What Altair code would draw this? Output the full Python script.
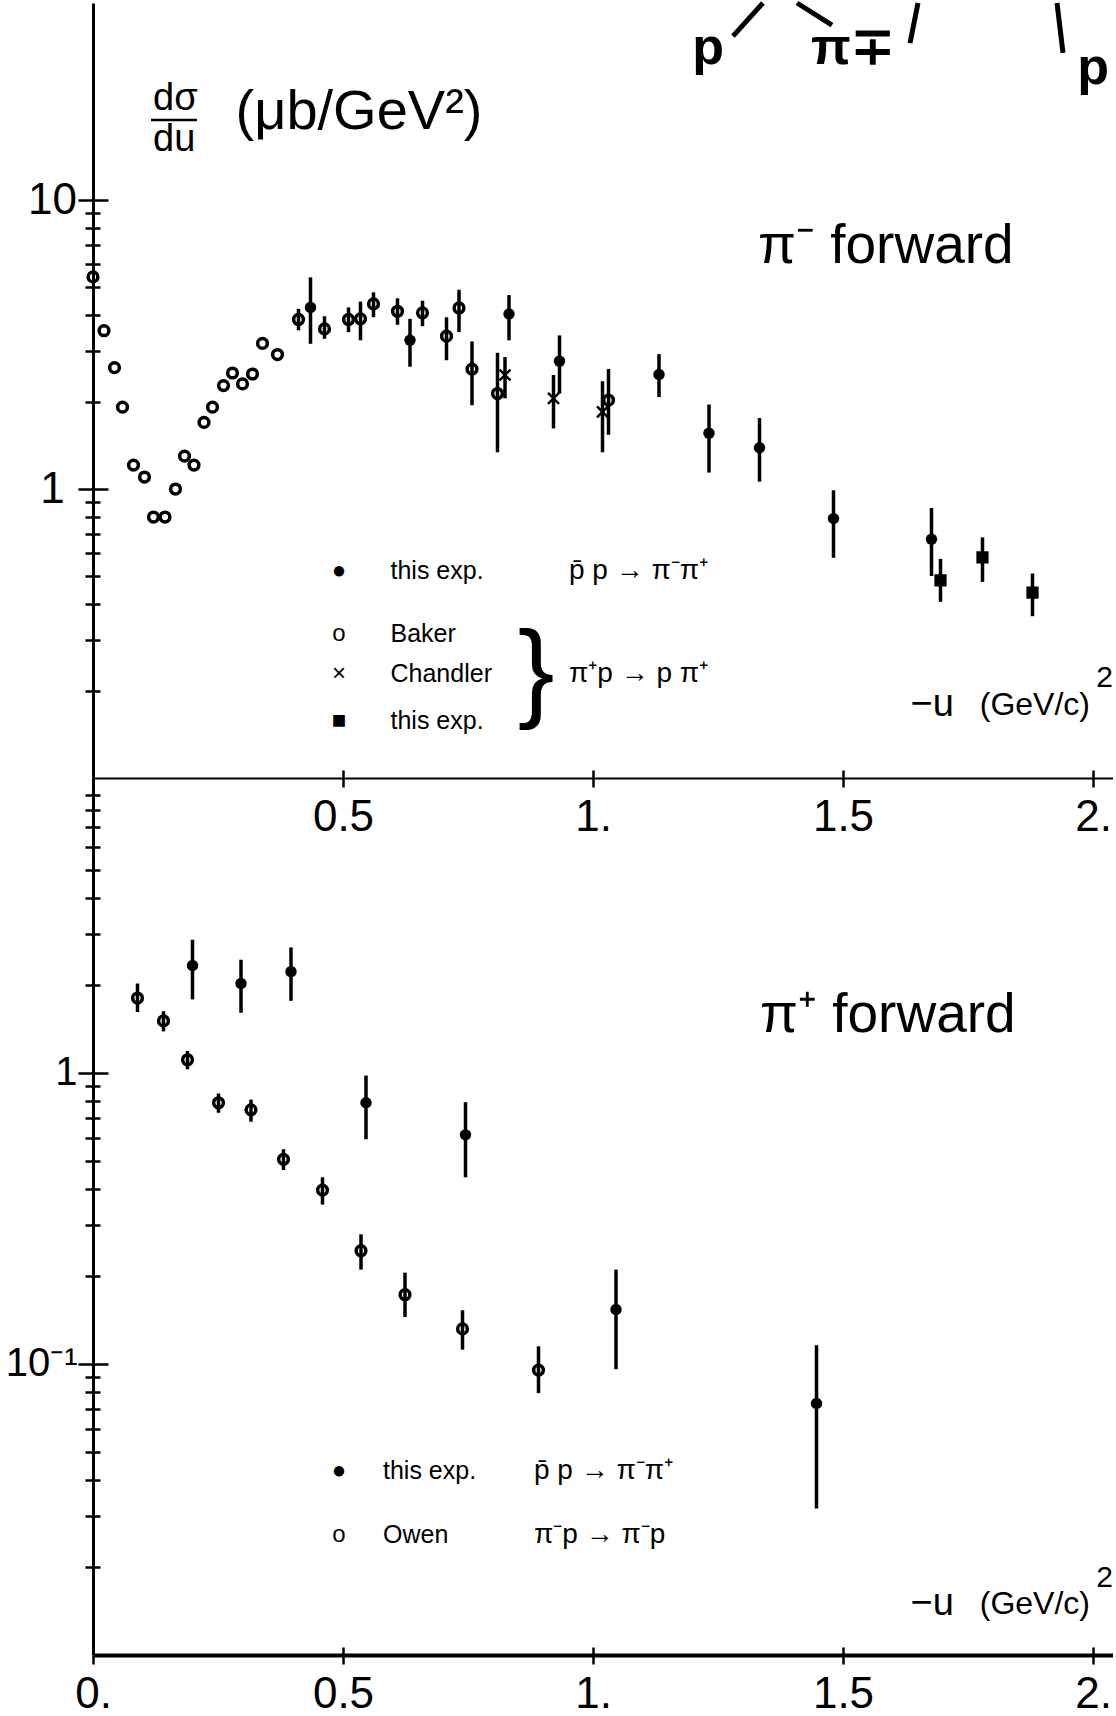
import altair as alt
import pandas as pd

# ---------------- top panel : pi- forward ----------------
baker_u = [0.0, 0.022, 0.043, 0.059, 0.081, 0.103, 0.121, 0.144, 0.165, 0.183, 0.202,
           0.222, 0.239, 0.261, 0.279, 0.299, 0.319, 0.339, 0.369]
baker_s = [5.42, 3.53, 2.63, 1.92, 1.21, 1.10, 0.80, 0.80, 1.00, 1.30, 1.21,
           1.70, 1.92, 2.28, 2.52, 2.31, 2.50, 3.19, 2.92]

bakerE_u = [0.411, 0.463, 0.511, 0.535, 0.561, 0.609, 0.659, 0.707, 0.732, 0.758, 0.809, 1.031]
bakerE_s = [3.86, 3.58, 3.86, 3.88, 4.37, 4.12, 4.07, 3.38, 4.23, 2.60, 2.14, 2.03]
bakerE_lo = [3.54, 3.31, 3.49, 3.27, 3.93, 3.70, 3.66, 2.79, 3.49, 1.95, 1.34, 1.54]
bakerE_hi = [4.20, 3.96, 4.25, 4.45, 4.79, 4.57, 4.48, 3.93, 4.89, 3.24, 2.96, 2.60]

ppbarT_u = [0.435, 0.634, 0.832, 0.933, 1.132, 1.232, 1.333, 1.481, 1.677]
ppbarT_s = [4.25, 3.27, 4.03, 2.77, 2.49, 1.56, 1.39, 0.79, 0.67]
ppbarT_lo = [3.18, 2.65, 3.27, 2.14, 2.08, 1.14, 1.06, 0.578, 0.50]
ppbarT_hi = [5.40, 3.88, 4.69, 3.40, 2.93, 1.96, 1.76, 0.99, 0.86]

chandler_u = [0.824, 0.921, 1.019]
chandler_s = [2.48, 2.06, 1.85]
chandler_lo = [2.06, 1.62, 1.34]
chandler_hi = [2.86, 2.48, 2.36]

pipT_u = [1.695, 1.779, 1.879]
pipT_s = [0.483, 0.58, 0.438]
pipT_lo = [0.407, 0.477, 0.363]
pipT_hi = [0.573, 0.68, 0.51]

# ---------------- bottom panel : pi+ forward ----------------
ppbarB_u = [0.199, 0.296, 0.396, 0.546, 0.745, 1.046, 1.447]
ppbarB_s = [2.34, 2.03, 2.23, 0.79, 0.613, 0.154, 0.0732]
ppbarB_lo = [1.79, 1.61, 1.77, 0.592, 0.438, 0.096, 0.0319]
ppbarB_hi = [2.87, 2.45, 2.70, 0.98, 0.794, 0.211, 0.116]

owen_u = [0.089, 0.141, 0.189, 0.251, 0.316, 0.381, 0.459, 0.536, 0.624, 0.739, 0.891]
owen_s = [1.81, 1.51, 1.11, 0.79, 0.747, 0.505, 0.396, 0.245, 0.173, 0.132, 0.0953]
owen_lo = [1.62, 1.39, 1.03, 0.73, 0.68, 0.464, 0.353, 0.211, 0.145, 0.112, 0.0794]
owen_hi = [2.03, 1.63, 1.19, 0.85, 0.81, 0.547, 0.438, 0.279, 0.206, 0.153, 0.115]

# ---------------- axis ticks ----------------
x_ticks = [0, 0.5, 1, 1.5, 2]
x_ticks_in = [0.5, 1, 1.5, 2]
top_y_ticks = [0.2, 0.3, 0.4, 0.5, 0.6, 0.7, 0.8, 0.9, 1, 2, 3, 4, 5, 6, 7, 8, 9, 10]
bot_y_ticks = [0.02, 0.03, 0.04, 0.05, 0.06, 0.07, 0.08, 0.09,
               0.1, 0.2, 0.3, 0.4, 0.5, 0.6, 0.7, 0.8, 0.9,
               1, 2, 3, 4, 5, 6, 7, 8, 9]

# ---------------- annotations ----------------
title_frac_x = [0.12, 0.12]
title_frac_y = [22.3, 16.1]
title_frac_t = ["dσ", "du"]
title_unit_x = [0.285]
title_unit_y = [20.1]
title_unit_t = ["(μb/GeV²)"]
frac_bar_x = [0.116]
frac_bar_x2 = [0.208]
frac_bar_y = [18.9]

top_big_x = [1.33]
top_big_y = [6.93]
top_big_t = ["π⁻ forward"]
top_u_x = [1.635, 1.994]
top_u_y = [0.179, 0.179]
top_u_t = ["−u", "(GeV/c)"]
top_sq_x = [2.04]
top_sq_y = [0.222]
top_sq_t = ["2"]

leg_top_sym_x = [0.492, 0.492, 0.492, 0.492]
leg_top_sym_y = [0.52, 0.315, 0.229, 0.158]
leg_top_sym_t = ["●", "o", "×", "■"]
leg_top_name_x = [0.595, 0.595, 0.595, 0.595]
leg_top_name_y = [0.52, 0.315, 0.229, 0.158]
leg_top_name_t = ["this exp.", "Baker", "Chandler", "this exp."]
leg_top_reac_x = [0.952, 0.952]
leg_top_reac_y = [0.52, 0.229]
leg_top_reac_t = ["p̄ p → π⁻π⁺", "π⁺p → p π⁺"]
brace_x = [0.886]
brace_y = [0.229]
brace_t = ["}"]

diag_t_x = [1.23, 1.52, 2.0]
diag_t_y = [33.6, 33.6, 28.6]
diag_t_t = ["p", "π∓", "p"]
diag_x = [1.28, 1.408, 1.634, 1.928]
diag_x2 = [1.34, 1.478, 1.65, 1.94]
diag_y = [36.9, 48.05, 34.9, 48.05]
diag_y2 = [48.05, 40.3, 48.05, 32.3]

bot_big_x = [1.334]
bot_big_y = [1.58]
bot_big_t = ["π⁺ forward"]
bot_u_x = [1.635, 1.994]
bot_u_y = [0.0150, 0.0150]
bot_u_t = ["−u", "(GeV/c)"]
bot_sq_x = [2.04]
bot_sq_y = [0.0184]
bot_sq_t = ["2"]

leg_bot_sym_x = [0.492, 0.492]
leg_bot_sym_y = [0.0429, 0.0259]
leg_bot_sym_t = ["●", "o"]
leg_bot_name_x = [0.58, 0.58]
leg_bot_name_y = [0.0429, 0.0259]
leg_bot_name_t = ["this exp.", "Owen"]
leg_bot_reac_x = [0.882, 0.882]
leg_bot_reac_y = [0.0429, 0.0259]
leg_bot_reac_t = ["p̄ p → π⁻π⁺", "π⁻p → π⁻p"]

# ---------------- scales & styles ----------------
W = 1020
H_TOP = 775
H = 1652
XS = alt.Scale(domain=[0, 2.04], nice=False, zero=False)
YS_T = alt.Scale(type="log", domain=[0.1, 48.05], range=[H_TOP, 0], nice=False)
YS_B = alt.Scale(type="log", domain=[0.01, 10.32], range=[H, H_TOP], nice=False)

NUMFONT = "Liberation Sans"
TXTFONT = "Liberation Sans"
HANDFONT = "Liberation Sans"


def cond(test, big, small):
    return {"condition": {"test": test, "value": big}, "value": small}


TOP_MAJ = "datum.value == 1 || datum.value == 10"
BOT_MAJ = "datum.value == 1 || datum.value == 0.1"
COMMON = dict(tickColor="black", domainColor="black", labelColor="black", grid=False, title=None)

AX_X_MID = alt.Axis(orient="bottom", offset=-(H - H_TOP), values=x_ticks,
                    labelExpr="datum.value == 0 ? '' : datum.value == 1 ? '1.' : datum.value == 2 ? '2.' : datum.label",
                    tickSize=9, tickWidth=2.5, domainWidth=2,
                    labelFont=NUMFONT, labelFontSize=44, labelPadding=8,
                    labelFlush=False, labelOverlap=False, **COMMON)
AX_X_MID_IN = alt.Axis(orient="top", offset=-H_TOP, values=x_ticks_in, labels=False, domain=False,
                       tickSize=8, tickWidth=2.5, minExtent=0, maxExtent=10, **COMMON)
AX_Y_TOP = alt.Axis(orient="left", values=top_y_ticks,
                    labelExpr="datum.value == 10 ? '10' : datum.value == 1 ? '1' : ''",
                    tickSize=cond(TOP_MAJ, 15, 8), tickWidth=2.5, domainWidth=3,
                    labelFont=NUMFONT, labelFontSize=44, labelPadding=26, labelAlign="center",
                    labelBaseline="middle", minExtent=93, maxExtent=93,
                    labelOverlap=False, labelFlush=False, **COMMON)
AX_Y_TOP_IN = alt.Axis(orient="right", offset=-W, values=top_y_ticks, labels=False, domain=False,
                       tickSize=cond(TOP_MAJ, 15, 7), tickWidth=2.5, minExtent=0, maxExtent=16, **COMMON)

AX_X_BOT = alt.Axis(orient="bottom", values=x_ticks,
                    labelExpr="datum.value == 0 ? '0.' : datum.value == 1 ? '1.' : datum.value == 2 ? '2.' : datum.label",
                    tickSize=9, tickWidth=2.5, domainWidth=4,
                    labelFont=NUMFONT, labelFontSize=44, labelPadding=8,
                    labelFlush=False, labelOverlap=False, **COMMON)
AX_X_BOT_IN = alt.Axis(orient="top", offset=-H, values=x_ticks_in, labels=False, domain=False,
                       tickSize=8, tickWidth=2.5, minExtent=0, maxExtent=10, **COMMON)
AX_Y_BOT = alt.Axis(orient="left", values=bot_y_ticks,
                    labelExpr="datum.value == 1 ? '1' : datum.value == 0.1 ? '10⁻¹' : ''",
                    tickSize=cond(BOT_MAJ, 15, 8), tickWidth=2.5, domainWidth=3,
                    labelFont=NUMFONT, labelFontSize=40, labelPadding=1, labelAlign="right",
                    labelBaseline="middle", minExtent=93, maxExtent=93,
                    labelOverlap=False, labelFlush=False, **COMMON)
AX_Y_BOT_IN = alt.Axis(orient="right", offset=-W, values=bot_y_ticks, labels=False, domain=False,
                       tickSize=cond(BOT_MAJ, 15, 7), tickWidth=2.5, minExtent=0, maxExtent=16, **COMMON)


def df(**cols):
    return pd.DataFrame(cols)


def xq(field, axis=None):
    return alt.X(f"{field}:Q", scale=XS, axis=axis, title=None)


def yq(field, scale, axis=None):
    return alt.Y(f"{field}:Q", scale=scale, axis=axis, title=None)


def text_layer(x, y, t, scale, size, font=TXTFONT, align="left", weight="normal"):
    return alt.Chart(df(x=x, y=y, t=t)).mark_text(
        align=align, baseline="middle", font=font, fontSize=size, color="black", fontWeight=weight
    ).encode(x=xq("x"), y=yq("y", scale), text="t:N")


OPEN = dict(shape="circle", filled=False, size=95, strokeWidth=3.5, color="black", opacity=1)
FULL = dict(size=130, color="black", opacity=1)

# ---------------- top panel ----------------
err_top = df(u=bakerE_u + ppbarT_u + chandler_u + pipT_u,
             lo=bakerE_lo + ppbarT_lo + chandler_lo + pipT_lo,
             hi=bakerE_hi + ppbarT_hi + chandler_hi + pipT_hi)

t_err = alt.Chart(err_top).mark_rule(strokeWidth=3.5, color="black").encode(
    x=xq("u", AX_X_MID), y=yq("lo", YS_T, AX_Y_TOP), y2="hi:Q")
t_baker = alt.Chart(df(u=baker_u + bakerE_u, s=baker_s + bakerE_s)).mark_point(**OPEN).encode(
    x=xq("u", AX_X_MID_IN), y=yq("s", YS_T, AX_Y_TOP_IN))
t_pp = alt.Chart(df(u=ppbarT_u, s=ppbarT_s)).mark_circle(**FULL).encode(
    x=xq("u"), y=yq("s", YS_T))
t_ch = alt.Chart(df(u=chandler_u, s=chandler_s)).mark_point(
    shape="M-1,-1L1,1M1,-1L-1,1", filled=False, size=120, strokeWidth=2.5, color="black", opacity=1).encode(
    x=xq("u"), y=yq("s", YS_T))
t_sq = alt.Chart(df(u=pipT_u, s=pipT_s)).mark_square(size=150, color="black", opacity=1).encode(
    x=xq("u"), y=yq("s", YS_T))
t_bar = alt.Chart(df(x=frac_bar_x, x2=frac_bar_x2, y=frac_bar_y)).mark_rule(
    strokeWidth=2.5, color="black").encode(x=xq("x"), x2="x2:Q", y=yq("y", YS_T))
t_diag = alt.Chart(df(x=diag_x, x2=diag_x2, y=diag_y, y2=diag_y2)).mark_rule(
    strokeWidth=5, color="black").encode(x=xq("x"), x2="x2:Q", y=yq("y", YS_T), y2="y2:Q")

top = alt.layer(
    t_err, t_baker, t_pp, t_ch, t_sq, t_bar, t_diag,
    text_layer(title_frac_x, title_frac_y, title_frac_t, YS_T, 38),
    text_layer(title_unit_x, title_unit_y, title_unit_t, YS_T, 56),
    text_layer(top_big_x, top_big_y, top_big_t, YS_T, 55),
    text_layer(top_u_x[:1], top_u_y[:1], top_u_t[:1], YS_T, 38),
    text_layer(top_u_x[1:], top_u_y[1:], top_u_t[1:], YS_T, 32, align="right"),
    text_layer(top_sq_x, top_sq_y, top_sq_t, YS_T, 30, align="right"),
    text_layer(leg_top_sym_x, leg_top_sym_y, leg_top_sym_t, YS_T, 24, align="center"),
    text_layer(leg_top_name_x, leg_top_name_y, leg_top_name_t, YS_T, 25, font=HANDFONT),
    text_layer(leg_top_reac_x, leg_top_reac_y, leg_top_reac_t, YS_T, 28, font=HANDFONT),
    text_layer(brace_x, brace_y, brace_t, YS_T, 110, align="center"),
    text_layer(diag_t_x, diag_t_y, diag_t_t, YS_T, 52, align="center", weight="bold"),
).resolve_axis(x="independent", y="independent")

# ---------------- bottom panel ----------------
err_bot = df(u=ppbarB_u + owen_u, lo=ppbarB_lo + owen_lo, hi=ppbarB_hi + owen_hi)

b_err = alt.Chart(err_bot).mark_rule(strokeWidth=3.5, color="black").encode(
    x=xq("u", AX_X_BOT), y=yq("lo", YS_B, AX_Y_BOT), y2="hi:Q")
b_owen = alt.Chart(df(u=owen_u, s=owen_s)).mark_point(**OPEN).encode(
    x=xq("u", AX_X_BOT_IN), y=yq("s", YS_B, AX_Y_BOT_IN))
b_pp = alt.Chart(df(u=ppbarB_u, s=ppbarB_s)).mark_circle(**FULL).encode(
    x=xq("u"), y=yq("s", YS_B))

bottom = alt.layer(
    b_err, b_owen, b_pp,
    text_layer(bot_big_x, bot_big_y, bot_big_t, YS_B, 55),
    text_layer(bot_u_x[:1], bot_u_y[:1], bot_u_t[:1], YS_B, 38),
    text_layer(bot_u_x[1:], bot_u_y[1:], bot_u_t[1:], YS_B, 32, align="right"),
    text_layer(bot_sq_x, bot_sq_y, bot_sq_t, YS_B, 30, align="right"),
    text_layer(leg_bot_sym_x, leg_bot_sym_y, leg_bot_sym_t, YS_B, 24, align="center"),
    text_layer(leg_bot_name_x, leg_bot_name_y, leg_bot_name_t, YS_B, 25, font=HANDFONT),
    text_layer(leg_bot_reac_x, leg_bot_reac_y, leg_bot_reac_t, YS_B, 28, font=HANDFONT),
).resolve_axis(x="independent", y="independent")

chart = alt.layer(top, bottom).resolve_scale(y="independent").resolve_axis(
    x="independent", y="independent"
).properties(
    width=W, height=H, padding={"left": 0, "top": 0, "right": 0, "bottom": 0}, background="white"
).configure_view(stroke=None)

chart.save("out.html", embed_options={"renderer": "svg", "actions": False})
